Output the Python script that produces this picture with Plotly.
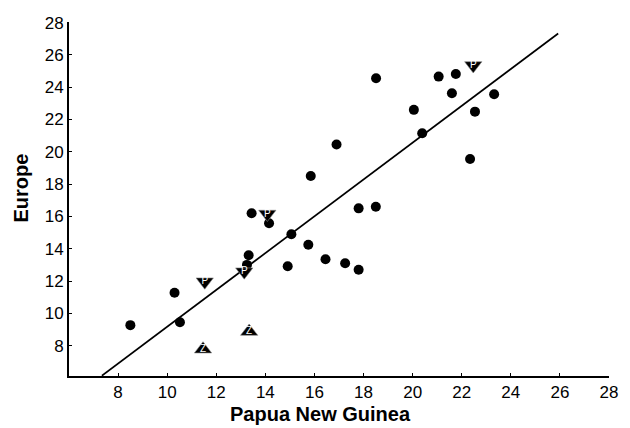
import plotly.graph_objects as go

# Circles (general data)
png_x = [8.5, 10.3, 10.52, 13.44, 14.15, 13.32, 13.25, 15.06, 14.91, 15.75, 15.85,
         16.45, 17.25, 17.8, 16.9, 17.8, 18.5, 18.51, 20.05, 20.39, 21.06, 21.76,
         21.6, 23.32, 22.54, 22.34]
eur_y = [9.27, 11.28, 9.45, 16.2, 15.58, 13.6, 13.0, 14.9, 12.92, 14.25, 18.5,
         13.35, 13.1, 12.7, 20.45, 16.5, 16.6, 24.56, 22.6, 21.15, 24.66, 24.82,
         23.63, 23.57, 22.49, 19.56]

# "P" down-triangles
p_x = [11.53, 13.14, 14.08, 22.47]
p_y = [11.96, 12.58, 16.15, 25.35]

# "Z" up-triangles
z_x = [11.46, 13.34]
z_y = [7.78, 8.87]

# Regression line
fit_slope = 1.14
fit_intercept = -2.23
fit_x = [7.34, 25.93]
fit_y = [fit_slope * v + fit_intercept for v in fit_x]

tick_vals = [8, 10, 12, 14, 16, 18, 20, 22, 24, 26, 28]
tick_text = [str(v) for v in tick_vals]

FONT = "Liberation Sans, Arial, Helvetica, sans-serif"

fig = go.Figure()

fig.add_trace(go.Scatter(x=fit_x, y=fit_y, mode="lines",
                         line=dict(color="black", width=1.7),
                         showlegend=False, hoverinfo="skip"))

fig.add_trace(go.Scatter(x=png_x, y=eur_y, mode="markers",
                         marker=dict(symbol="circle", size=10, color="black"),
                         showlegend=False))

fig.add_trace(go.Scatter(x=p_x, y=p_y, mode="markers+text",
                         marker=dict(symbol="triangle-down", size=15, color="black",
                                     line=dict(color="#888888", width=0.6)),
                         text=["P"] * len(p_x), textposition="middle center",
                         textfont=dict(color="white", size=10, family=FONT),
                         showlegend=False))

fig.add_trace(go.Scatter(x=z_x, y=z_y, mode="markers+text",
                         marker=dict(symbol="triangle-up", size=15, color="black",
                                     line=dict(color="#888888", width=0.6)),
                         text=["Z"] * len(z_x), textposition="middle center",
                         textfont=dict(color="white", size=10, family=FONT),
                         showlegend=False))

axis_common = dict(
    showgrid=False, zeroline=False, showline=True, linecolor="black", linewidth=2,
    ticks="inside", ticklen=3, tickwidth=1, tickcolor="black",
    tickmode="array", tickvals=tick_vals, ticktext=tick_text,
    tickfont=dict(family=FONT, size=17, color="black"),
    mirror=False,
)

fig.update_layout(
    width=630, height=428,
    margin=dict(l=69, r=14, t=22, b=52),
    paper_bgcolor="white", plot_bgcolor="white",
    xaxis=dict(range=[6, 28], **axis_common),
    yaxis=dict(range=[6.12, 28.04], **axis_common),
    showlegend=False,
    annotations=[
        dict(text="<b>Papua New Guinea</b>", xref="paper", yref="paper",
             x=0.465, y=-0.108, xanchor="center", yanchor="middle", showarrow=False,
             font=dict(family=FONT, size=20, color="black")),
        dict(text="<b>Europe</b>", xref="paper", yref="paper",
             x=-0.088, y=0.531, xanchor="center", yanchor="middle", showarrow=False,
             textangle=-90, font=dict(family=FONT, size=20, color="black")),
    ],
)

fig.write_html("out.html", config={"displayModeBar": False},
               post_script="document.body.style.margin='0px';document.body.style.overflow='hidden';")
